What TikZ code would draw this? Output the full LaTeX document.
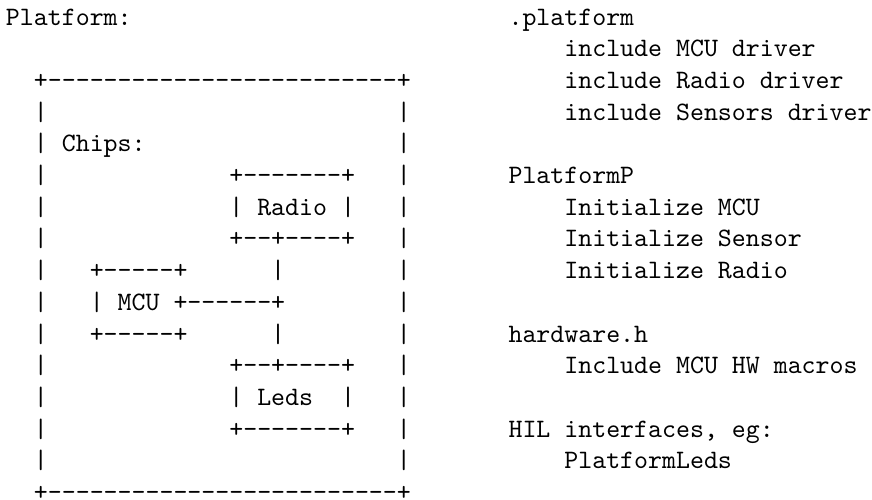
\documentclass[tikz,border=0pt]{standalone}
\usepackage{fontspec}
\setmonofont{Latin Modern Mono}
\newcommand\tline[4]{\node[ttxt] (#1) at ({6+13.96*#2},{25+31.7*#3}) {#4};}
\begin{document}
\begin{tikzpicture}[x=0.37607pt,y=-0.37607pt,
  ttxt/.style={anchor=base west, inner sep=0pt, outer sep=0pt, font=\fontsize{10pt}{12pt}\ttfamily, text=black}]
\useasboundingbox (0,0) rectangle (872,499);
% row 0
\tline{platform}{0}{0}{Platform:}
\tline{dotplat}{36}{0}{.platform}
% row 1
\tline{incmcu}{40}{1}{include MCU driver}
% row 2
\tline{topb}{2}{2}{+-------------------------+}
\tline{incradio}{40}{2}{include Radio driver}
% row 3
\tline{l3}{2}{3}{|}
\tline{r3}{28}{3}{|}
\tline{incsens}{40}{3}{include Sensors driver}
% row 4
\tline{chips}{2}{4}{| Chips:}
\tline{r4}{28}{4}{|}
% row 5
\tline{l5}{2}{5}{|}
\tline{radiotop}{16}{5}{+-------+}
\tline{r5}{28}{5}{|}
\tline{platp}{36}{5}{PlatformP}
% row 6
\tline{l6}{2}{6}{|}
\tline{radio}{16}{6}{| Radio |}
\tline{r6}{28}{6}{|}
\tline{initmcu}{40}{6}{Initialize MCU}
% row 7
\tline{l7}{2}{7}{|}
\tline{radiobot}{16}{7}{+--+----+}
\tline{r7}{28}{7}{|}
\tline{initsens}{40}{7}{Initialize Sensor}
% row 8
\tline{l8}{2}{8}{|}
\tline{mcutop}{6}{8}{+-----+}
\tline{v8}{19}{8}{|}
\tline{r8}{28}{8}{|}
\tline{initradio}{40}{8}{Initialize Radio}
% row 9
\tline{l9}{2}{9}{|}
\tline{mcu}{6}{9}{| MCU +------+}
\tline{r9}{28}{9}{|}
% row 10
\tline{l10}{2}{10}{|}
\tline{mcubot}{6}{10}{+-----+}
\tline{v10}{19}{10}{|}
\tline{r10}{28}{10}{|}
\tline{hwh}{36}{10}{hardware.h}
% row 11
\tline{l11}{2}{11}{|}
\tline{ledstop}{16}{11}{+--+----+}
\tline{r11}{28}{11}{|}
\tline{incmac}{40}{11}{Include MCU HW macros}
% row 12
\tline{l12}{2}{12}{|}
\tline{leds}{16}{12}{| Leds}
\tline{ledsr}{24}{12}{|}
\tline{r12}{28}{12}{|}
% row 13
\tline{l13}{2}{13}{|}
\tline{ledsbot}{16}{13}{+-------+}
\tline{r13}{28}{13}{|}
\tline{hil}{36}{13}{HIL interfaces, eg:}
% row 14
\tline{l14}{2}{14}{|}
\tline{r14}{28}{14}{|}
\tline{platleds}{40}{14}{PlatformLeds}
% row 15
\tline{botb}{2}{15}{+-------------------------+}
\end{tikzpicture}
\end{document}
